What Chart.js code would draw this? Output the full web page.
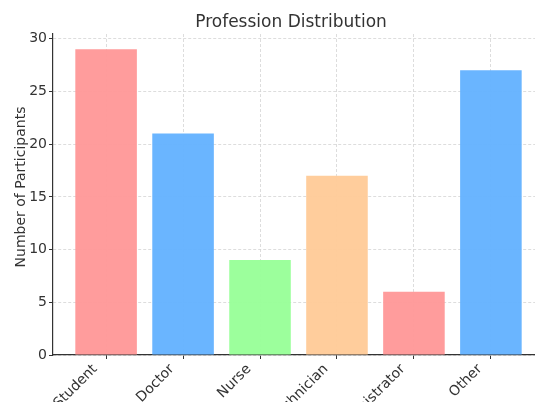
<!DOCTYPE html>
<html lang="en">
<head>
  <meta charset="UTF-8" />
  <title>Profession Distribution</title>
  <script src="https://cdn.jsdelivr.net/npm/chart.js"></script>
  <style>
    html, body { margin: 0; padding: 0; background: #fff; overflow: hidden; }
    #wrap { width: 545px; height: 402px; }
  </style>
</head>
<body>
  <div id="wrap"><canvas id="barChart" width="545" height="402"></canvas></div>

  <script>
    // chart data
    const categories = ['Student', 'Doctor', 'Nurse', 'Technician', 'Administrator', 'Other'];
    const participants = [29, 21, 9, 17, 6, 27];
    const barColors = ['#ff9999', '#66b3ff', '#99ff99', '#ffcc99', '#ff9999', '#66b3ff'];
    const yTicks = [0, 5, 10, 15, 20, 25, 30];
    const chartTitle = 'Profession Distribution';
    const yLabel = 'Number of Participants';

    const FONT = '"DejaVu Sans", sans-serif';
    const TEXT = '#333';

    // title + y label drawn by hand so they sit where the original has them
    const labelsPlugin = {
      id: 'labels',
      afterDraw(chart) {
        const ctx = chart.ctx;
        ctx.save();
        ctx.fillStyle = TEXT;
        ctx.font = '17px ' + FONT;
        ctx.textAlign = 'center';
        ctx.textBaseline = 'alphabetic';
        ctx.fillText(chartTitle, 291, 27);

        ctx.font = '14px ' + FONT;
        ctx.translate(24.5, 187);
        ctx.rotate(-Math.PI / 2);
        ctx.fillText(yLabel, 0, 0);
        ctx.restore();
      }
    };

    const ctxBar = document.getElementById('barChart').getContext('2d');
    new Chart(ctxBar, {
      type: 'bar',
      data: {
        datasets: [{
          data: participants.map((v, i) => ({ x: i, y: v })),
          backgroundColor: barColors.map(c => c + 'f8'),
          categoryPercentage: 1,
          barPercentage: 0.8,
          borderWidth: 0
        }]
      },
      options: {
        responsive: false,
        animation: false,
        layout: { padding: { top: 34, right: 1, left: 0, bottom: 0 } },
        scales: {
          x: {
            type: 'linear',
            offset: false,
            min: -0.69,
            max: 5.69,
            afterBuildTicks: s => { s.ticks = categories.map((c, i) => ({ value: i })); },
            afterFit: s => { s.height = 47; },
            ticks: {
              autoSkip: false,
              minRotation: 45,
              maxRotation: 45,
              padding: 2,
              labelOffset: -11,
              color: TEXT,
              font: { family: FONT, size: 14 },
              callback: v => categories[v]
            },
            grid: { offset: false, color: '#d4d4d4', lineWidth: 0.8, tickColor: '#333', tickLength: 4, tickWidth: 1 },
            border: { color: '#333', width: 1.2, dash: [3, 2] }
          },
          y: {
            min: 0,
            max: 30.45,
            afterBuildTicks: s => { s.ticks = yTicks.map(v => ({ value: v })); },
            afterFit: s => { s.width = 53; },
            ticks: {
              padding: 2,
              color: TEXT,
              font: { family: FONT, size: 14 }
            },
            grid: { color: '#d4d4d4', lineWidth: 0.8, tickColor: '#333', tickLength: 4, tickWidth: 1 },
            border: { color: '#333', width: 1.2, dash: [3, 2] }
          }
        },
        plugins: {
          legend: { display: false },
          title: { display: false },
          tooltip: { enabled: false }
        }
      },
      plugins: [labelsPlugin]
    });
  </script>
</body>
</html>
